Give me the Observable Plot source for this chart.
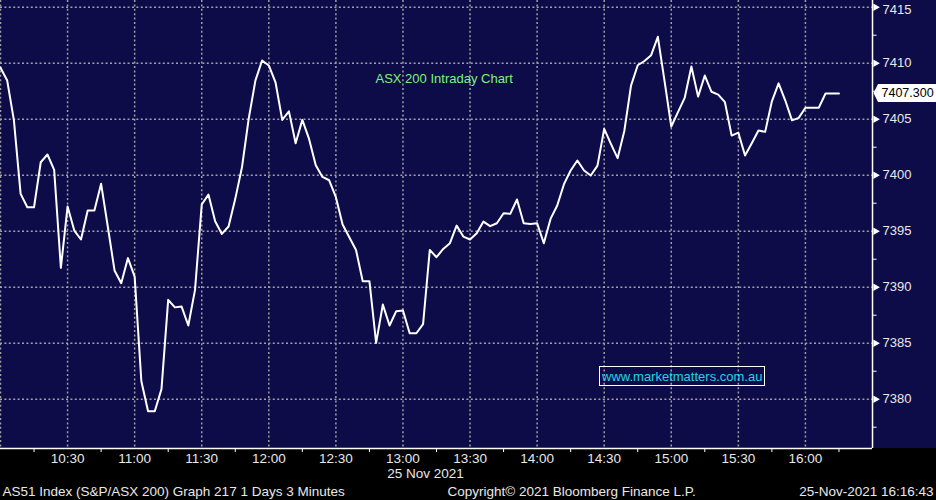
<!DOCTYPE html>
<html><head><meta charset="utf-8">
<script src="https://cdn.jsdelivr.net/npm/d3@7"></script>
<script src="https://cdn.jsdelivr.net/npm/@observablehq/plot@0.6"></script>
<style>
html,body{margin:0;padding:0;background:#000;}
#chart svg{display:block;}
</style></head><body><div id="chart"></div>
<script>
const chartTitle = "ASX 200 Intraday Chart";
const watermark = "www.marketmatters.com.au";
const dateLabel = "25 Nov 2021";
const footerLeft = "AS51 Index (S&P/ASX 200) Graph 217 1 Days 3 Minutes";
const footerMid = "Copyright\u00A9 2021 Bloomberg Finance L.P.";
const footerRight = "25-Nov-2021 16:16:43";
const sessionDate = "2021-11-25";
const startTime = "10:00";
const endTime = "16:30";
const barMinutes = 3;

// 3-minute closes, 10:00 onwards
const closes = [
  7409.6, 7408.45, 7404.9, 7398.33, 7397.14, 7397.14, 7401.16, 7401.85, 7400.48, 7391.73,
  7397.2, 7395.06, 7394.26, 7396.85, 7396.85, 7399.23, 7395.4, 7391.5, 7390.36, 7392.6,
  7390.95, 7381.6, 7378.93, 7378.93, 7380.9, 7388.87, 7388.2, 7388.27, 7386.58, 7389.76,
  7397.38, 7398.27, 7395.89, 7394.76, 7395.42, 7397.89, 7400.71, 7405.03, 7408.45, 7410.24,
  7409.8, 7408.3, 7404.94, 7405.7, 7402.86, 7404.94, 7403.24, 7400.9, 7399.85, 7399.55,
  7398.04, 7395.6, 7394.46, 7393.33, 7390.54, 7390.54, 7385.03, 7388.45, 7386.58, 7387.86,
  7387.92, 7385.89, 7385.89, 7386.7, 7393.33, 7392.68, 7393.42, 7393.93, 7395.5, 7394.52,
  7394.26, 7394.82, 7395.86, 7395.45, 7395.71, 7396.6, 7396.55, 7397.83, 7395.71, 7395.65,
  7395.71, 7393.93, 7396.1, 7397.29, 7399.2, 7400.42, 7401.31, 7400.42, 7399.97, 7400.86,
  7404.14, 7402.8, 7401.52, 7403.95, 7408.0, 7409.82, 7410.2, 7410.72, 7412.36, 7408.4,
  7404.35, 7405.63, 7406.9, 7409.7, 7407.02, 7408.9, 7407.45, 7407.2, 7406.52, 7403.54,
  7403.8, 7401.76, 7402.86, 7403.99, 7403.87, 7406.6, 7408.2, 7406.67, 7404.9, 7405.12,
  7406.03, 7406.03, 7406.03, 7407.3, 7407.3, 7407.3
];

const timeLabels = ["10:30","11:00","11:30","12:00","12:30","13:00","13:30","14:00","14:30","15:00","15:30","16:00"];
const gridTimes = ["10:00","10:30","11:00","11:30","12:00","12:30","13:00","13:30","14:00","14:30","15:00","15:30","16:00"];
const minorTimes = ["10:15","10:45","11:15","11:45","12:15","12:45","13:15","13:45","14:15","14:45","15:15","15:45","16:15"];
const yDomain = [7375.6, 7415.6];
const yLabels = [7380, 7385, 7390, 7395, 7400, 7405, 7410, 7415];
const yMinor = [7377.5, 7382.5, 7387.5, 7392.5, 7397.5, 7402.5, 7407.5, 7412.5];

const t = s => new Date(`${sessionDate}T${s}:00Z`);
const t0 = t(startTime);
const series = closes.map((v, i) => ({time: new Date(+t0 + i * barMinutes * 60000), value: v}));
const last = series[series.length - 1];
const font = "'Liberation Sans', Arial, sans-serif";

function calloutBox(index, scales, values, dimensions) {
  const y = scales.y(last.value);
  const x0 = dimensions.width - dimensions.marginRight;
  const p = document.createElementNS("http://www.w3.org/2000/svg", "path");
  p.setAttribute("d", `M${x0 + 1.5},${y} L${x0 + 6},${y - 9} L${dimensions.width},${y - 9} L${dimensions.width},${y + 9} L${x0 + 6},${y + 9} Z`);
  p.setAttribute("fill", "#ffffff");
  return p;
}
function watermarkBox() {
  const r = document.createElementNS("http://www.w3.org/2000/svg", "rect");
  r.setAttribute("x", 599.5); r.setAttribute("y", 366.5);
  r.setAttribute("width", 165); r.setAttribute("height", 19);
  r.setAttribute("fill", "none"); r.setAttribute("stroke", "#ffffff"); r.setAttribute("stroke-width", 1);
  return r;
}

const gridStyle = {stroke: "#a0a0a0", strokeOpacity: 1, strokeWidth: 1.5, strokeDasharray: "2,2.4"};

const plot = Plot.plot({
  width: 936, height: 500,
  marginLeft: 0, marginRight: 64, marginTop: 0, marginBottom: 52,
  style: {background: "linear-gradient(to bottom, #0e0c48 0px, #0e0c48 448px, #000000 448px, #000000 500px)", color: "#e8e8e8", fontFamily: font, fontSize: "13px"},
  x: {type: "utc", domain: [t(startTime), t(endTime)], axis: null, label: null},
  y: {domain: yDomain, axis: null, label: null},
  marks: [
    Plot.gridX(gridTimes.map(t), gridStyle),
    Plot.gridY(yLabels, gridStyle),
    Plot.line(series, {x: "time", y: "value", stroke: "#ffffff", strokeWidth: 2}),
    Plot.ruleY([yDomain[0]], {stroke: "#ffffff", strokeWidth: 1.5}),
    Plot.ruleX([t(endTime)], {stroke: "#ffffff", strokeWidth: 1.5}),
    Plot.axisX(timeLabels.map(t), {tickSize: 0, tickPadding: 5, tickFormat: d3.utcFormat("%H:%M"), fontSize: 13.5, fill: "#e8e8e8", label: null}),
    Plot.axisX(minorTimes.map(t), {tickSize: 4, tickFormat: () => "", stroke: "#ffffff", label: null}),
    Plot.axisY(yLabels.slice(0, -1), {anchor: "right", tickSize: 0, tickPadding: 10, tickFormat: d3.format("d"), fontSize: 13, fill: "#e8e8e8", label: null}),
    Plot.axisY(yLabels.slice(-1), {anchor: "right", tickSize: 0, tickPadding: 10, tickFormat: d3.format("d"), fontSize: 13, fill: "#e8e8e8", label: null, dy: 3}),
    Plot.axisY(yMinor, {anchor: "right", tickSize: 3.5, tickFormat: () => "", stroke: "#ffffff", label: null}),
    Plot.dot(yLabels, {y: d => d, frameAnchor: "right", dx: 3, symbol: "triangle", rotate: 90, r: 2.8, fill: "#ffffff", stroke: null}),
    calloutBox,
    Plot.text([last], {y: "value", text: d => d3.format(".3f")(d.value), frameAnchor: "right", dx: 9, textAnchor: "start", fill: "#000000", fontSize: 12.5}),
    Plot.text([chartTitle], {text: d => d, frameAnchor: "top-left", dx: 375, dy: 78.5, lineAnchor: "middle", textAnchor: "start", fill: "#7ef27e", fontSize: 13}),
    watermarkBox,
    Plot.text([watermark], {text: d => d, frameAnchor: "top-left", dx: 601.5, dy: 376.5, lineAnchor: "middle", textAnchor: "start", fill: "#22d3e6", fontSize: 13}),
    Plot.text([dateLabel], {text: d => d, frameAnchor: "bottom-left", dx: 425, dy: 25.5, lineAnchor: "middle", textAnchor: "middle", fill: "#e8e8e8", fontSize: 13.5}),
    Plot.text([footerLeft], {text: d => d, frameAnchor: "bottom-left", dx: 2, dy: 43.5, lineAnchor: "middle", textAnchor: "start", fill: "#e8e8e8", fontSize: 13.5}),
    Plot.text([footerMid], {text: d => d, frameAnchor: "bottom-left", dx: 447, dy: 43.5, lineAnchor: "middle", textAnchor: "start", fill: "#e8e8e8", fontSize: 13.5}),
    Plot.text([footerRight], {text: d => d, frameAnchor: "bottom-right", dx: 61, dy: 43.5, lineAnchor: "middle", textAnchor: "end", fill: "#e8e8e8", fontSize: 13.5})
  ]
});
document.getElementById("chart").appendChild(plot);
</script>
</body></html>
